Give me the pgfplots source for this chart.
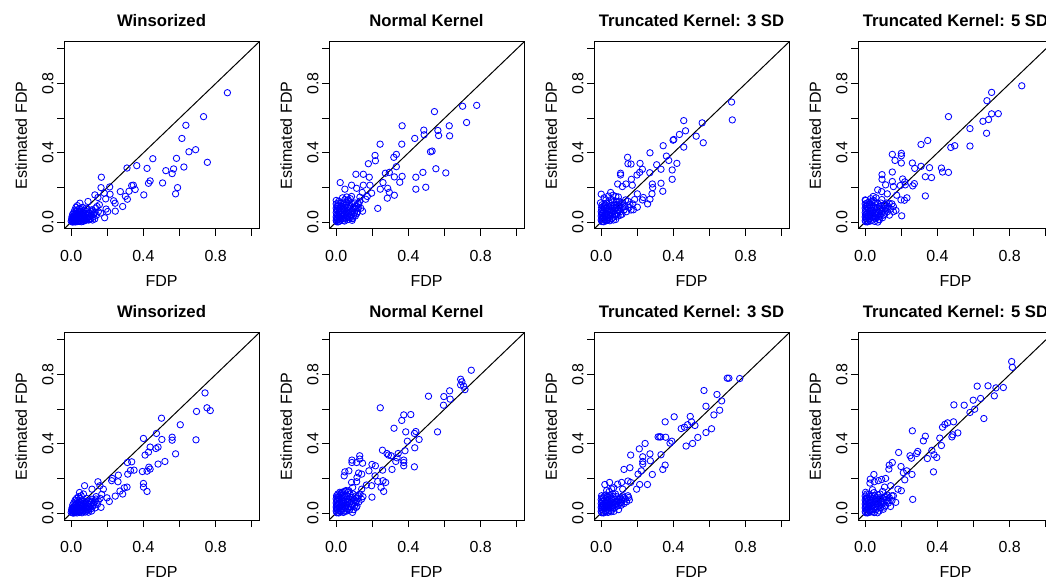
\documentclass[border=0pt]{standalone}
\usepackage{fontspec}
\setmainfont{Liberation Sans}
\usepackage{pgfplots}
\pgfplotsset{compat=1.18}

\pgfplotsset{
  panel/.style={
    scale only axis, width=195bp, height=187bp,
    xmin=-0.04, xmax=1.04, ymin=-0.04, ymax=1.04,
    axis line style={line width=1bp},
    xtick={0,0.2,0.4,0.6,0.8,1}, ytick={0,0.2,0.4,0.6,0.8,1},
    xticklabels={0.0,,0.4,,0.8,}, yticklabels={0.0,,0.4,,0.8,},
    tick align=outside, xtick pos=left, ytick pos=left,
    major tick length=7bp, tick style={black, line width=1bp},
    /pgf/number format/assume math mode=true,
    ticklabel style={font=\fontsize{16bp}{19bp}\selectfont},
    xticklabel style={yshift=-11bp},
    yticklabel style={rotate=90, anchor=south},
    label style={font=\fontsize{16bp}{19bp}\selectfont},
    xlabel={FDP}, ylabel={Estimated FDP},
    xlabel style={at={(axis description cs:0.5,-0.310)}, anchor=base},
    ylabel style={at={(axis description cs:-0.19,0.5)}, anchor=base},
    title style={at={(axis description cs:0.5,1.053)}, anchor=base,
      font=\bfseries\fontsize{16.7bp}{20bp}\selectfont},
  },
  pts/.style={only marks, mark=o, blue, mark size=3.2bp, mark options={line width=0.85bp}},
  diag/.style={black, line width=1bp, no markers},
}

\begin{document}
\begin{tikzpicture}
\useasboundingbox (0,0) rectangle (1046bp,580bp);
\clip (0,0) rectangle (1046bp,580bp);

% ---- top row ----
\begin{axis}[panel, at={(64bp,351bp)}, anchor=south west, title={Winsorized}]
\addplot[pts] table {
0.865 0.747
0.733 0.609
0.635 0.559
0.613 0.483
0.689 0.418
0.652 0.406
0.754 0.345
0.583 0.368
0.624 0.318
0.567 0.307
0.559 0.280
0.524 0.297
0.506 0.226
0.589 0.199
0.578 0.163
0.452 0.366
0.420 0.310
0.437 0.238
0.428 0.224
0.402 0.157
0.363 0.326
0.309 0.312
0.344 0.213
0.335 0.211
0.354 0.188
0.320 0.178
0.311 0.132
0.300 0.149
0.272 0.176
0.285 0.090
0.244 0.063
0.243 0.109
0.235 0.123
0.215 0.161
0.213 0.203
0.167 0.259
0.165 0.199
0.183 0.167
0.191 0.134
0.185 0.025
0.193 0.075
0.148 0.142
0.131 0.157
0.093 0.119
0.048 0.109
0.156 0.100
0.143 0.090
0.163 0.052
0.202 0.061
0.115 0.071
0.081 0.080
0.063 0.052
0.000 0.005
0.005 0.010
0.010 0.004
0.012 0.020
0.015 0.008
0.018 0.030
0.020 0.012
0.022 0.040
0.025 0.018
0.028 0.006
0.030 0.025
0.032 0.050
0.035 0.015
0.038 0.032
0.040 0.008
0.042 0.060
0.045 0.022
0.048 0.040
0.050 0.012
0.052 0.030
0.055 0.070
0.058 0.018
0.060 0.045
0.062 0.008
0.065 0.028
0.068 0.055
0.070 0.015
0.072 0.035
0.075 0.020
0.078 0.048
0.080 0.010
0.083 0.030
0.086 0.060
0.090 0.022
0.093 0.040
0.096 0.012
0.100 0.030
0.104 0.050
0.108 0.020
0.112 0.038
0.116 0.065
0.120 0.028
0.125 0.045
0.130 0.018
0.004 0.030
0.008 0.045
0.014 0.055
0.020 0.070
0.026 0.085
0.034 0.095
0.010 0.025
0.003 0.018
0.007 0.000
0.016 0.002
0.024 0.001
0.036 0.003
0.046 0.004
0.056 0.002
0.066 0.004
0.140 0.040
0.150 0.060
0.135 0.080
0.028 0.065
0.045 0.078
0.062 0.085
0.006 0.015
0.011 0.033
0.017 0.018
0.021 0.028
0.027 0.012
0.033 0.038
0.039 0.022
0.044 0.046
0.051 0.020
0.057 0.038
0.063 0.024
0.069 0.040
0.074 0.010
0.081 0.042
0.087 0.016
0.094 0.052
0.102 0.015
0.109 0.060
0.118 0.012
0.128 0.055
0.036 0.070
0.053 0.058
0.019 0.050
0.071 0.068
0.090 0.075
};
\addplot[diag] coordinates {(-0.04,-0.04) (1.04,1.04)};
\end{axis}

\begin{axis}[panel, at={(329bp,351bp)}, anchor=south west, title={Normal Kernel}]
\addplot[pts] table {
0.778 0.674
0.700 0.669
0.722 0.575
0.544 0.638
0.626 0.556
0.563 0.529
0.485 0.531
0.567 0.500
0.628 0.498
0.487 0.504
0.435 0.483
0.365 0.556
0.363 0.450
0.243 0.450
0.531 0.410
0.522 0.406
0.333 0.391
0.319 0.374
0.215 0.385
0.217 0.354
0.178 0.337
0.333 0.320
0.552 0.308
0.607 0.284
0.480 0.287
0.441 0.259
0.496 0.201
0.441 0.190
0.365 0.264
0.322 0.261
0.352 0.230
0.272 0.282
0.294 0.287
0.259 0.228
0.244 0.190
0.285 0.195
0.294 0.172
0.283 0.138
0.322 0.155
0.230 0.079
0.146 0.063
0.109 0.276
0.150 0.276
0.183 0.259
0.022 0.228
0.085 0.213
0.048 0.190
0.113 0.195
0.150 0.213
0.187 0.213
0.144 0.171
0.196 0.167
0.172 0.148
0.131 0.144
0.163 0.132
0.122 0.109
0.085 0.148
0.067 0.128
0.089 0.021
0.000 0.010
0.000 0.030
0.000 0.055
0.000 0.080
0.000 0.105
0.000 0.125
0.004 0.045
0.006 0.015
0.008 0.070
0.010 0.095
0.012 0.030
0.015 0.055
0.018 0.005
0.020 0.080
0.022 0.040
0.025 0.110
0.028 0.020
0.030 0.065
0.033 0.090
0.036 0.035
0.040 0.010
0.042 0.075
0.045 0.050
0.048 0.130
0.050 0.025
0.053 0.100
0.056 0.060
0.060 0.040
0.062 0.085
0.065 0.015
0.068 0.120
0.070 0.050
0.073 0.030
0.076 0.070
0.080 0.095
0.083 0.045
0.086 0.060
0.090 0.020
0.093 0.080
0.096 0.035
0.100 0.055
0.104 0.110
0.108 0.075
0.112 0.090
0.118 0.060
0.124 0.100
0.130 0.120
0.136 0.080
0.014 0.120
0.035 0.140
0.058 0.145
0.078 0.135
0.002 0.002
0.010 0.001
0.024 0.012
0.046 0.006
0.064 0.028
0.088 0.010
0.002 0.020
0.003 0.068
0.005 0.092
0.009 0.040
0.013 0.110
0.016 0.075
0.019 0.025
0.023 0.060
0.027 0.095
0.031 0.045
0.035 0.075
0.038 0.115
0.044 0.020
0.049 0.085
0.055 0.035
0.059 0.110
0.066 0.065
0.071 0.090
0.078 0.025
0.084 0.110
0.091 0.065
0.098 0.085
0.106 0.035
0.114 0.050
0.122 0.080
};
\addplot[diag] coordinates {(-0.04,-0.04) (1.04,1.04)};
\end{axis}

\begin{axis}[panel, at={(594bp,351bp)}, anchor=south west, title={Truncated Kernel: 3 SD}]
\addplot[pts] table {
0.722 0.693
0.726 0.590
0.559 0.573
0.457 0.586
0.467 0.527
0.433 0.506
0.402 0.477
0.398 0.473
0.526 0.496
0.565 0.458
0.457 0.433
0.343 0.441
0.270 0.400
0.361 0.381
0.374 0.356
0.419 0.339
0.307 0.331
0.331 0.305
0.393 0.301
0.393 0.247
0.146 0.374
0.148 0.337
0.165 0.335
0.215 0.339
0.107 0.282
0.107 0.272
0.228 0.305
0.213 0.287
0.198 0.272
0.269 0.285
0.167 0.247
0.091 0.220
0.117 0.205
0.137 0.220
0.172 0.213
0.283 0.220
0.285 0.199
0.331 0.224
0.341 0.178
0.281 0.163
0.270 0.132
0.257 0.105
0.228 0.128
0.233 0.142
0.200 0.163
0.200 0.086
0.178 0.071
0.000 0.161
0.052 0.171
0.026 0.128
-0.004 0.111
0.104 0.105
0.135 0.128
0.159 0.100
0.081 0.148
0.000 0.012
0.000 0.035
0.000 0.060
0.002 0.085
0.004 0.022
0.006 0.048
0.008 0.004
0.010 0.070
0.012 0.030
0.015 0.095
0.018 0.015
0.020 0.055
0.023 0.040
0.026 0.078
0.028 0.008
0.030 0.110
0.033 0.025
0.036 0.062
0.040 0.045
0.043 0.090
0.046 0.018
0.050 0.070
0.053 0.035
0.056 0.130
0.060 0.055
0.063 0.080
0.066 0.028
0.070 0.100
0.073 0.045
0.076 0.065
0.080 0.015
0.083 0.120
0.086 0.085
0.090 0.050
0.093 0.035
0.097 0.070
0.100 0.095
0.105 0.060
0.110 0.080
0.115 0.045
0.120 0.110
0.126 0.070
0.132 0.090
0.140 0.060
0.148 0.120
0.155 0.085
0.016 0.140
0.040 0.150
0.065 0.155
0.095 0.145
0.003 0.003
0.014 0.002
0.030 0.010
0.048 0.008
0.068 0.012
0.165 0.070
0.175 0.105
0.185 0.130
0.002 0.048
0.003 0.072
0.005 0.100
0.009 0.020
0.013 0.058
0.016 0.080
0.019 0.038
0.022 0.100
0.027 0.050
0.031 0.085
0.035 0.012
0.039 0.070
0.044 0.110
0.048 0.040
0.052 0.095
0.058 0.020
0.062 0.115
0.067 0.060
0.072 0.080
0.078 0.040
0.085 0.100
0.091 0.070
0.099 0.120
0.107 0.040
0.118 0.085
};
\addplot[diag] coordinates {(-0.04,-0.04) (1.04,1.04)};
\end{axis}

\begin{axis}[panel, at={(858bp,351bp)}, anchor=south west, title={Truncated Kernel: 5 SD}]
\addplot[pts] table {
0.867 0.787
0.700 0.749
0.674 0.701
0.737 0.626
0.700 0.625
0.683 0.592
0.652 0.582
0.461 0.609
0.580 0.540
0.672 0.513
0.346 0.471
0.309 0.448
0.580 0.439
0.496 0.441
0.474 0.431
0.356 0.314
0.422 0.312
0.428 0.289
0.461 0.287
0.367 0.257
0.333 0.262
0.333 0.151
0.309 0.322
0.274 0.310
0.261 0.341
0.200 0.397
0.200 0.383
0.150 0.391
0.165 0.356
0.200 0.341
0.150 0.289
0.093 0.274
0.093 0.247
0.150 0.234
0.207 0.249
0.219 0.232
0.222 0.215
0.272 0.222
0.263 0.209
0.194 0.211
0.113 0.215
0.156 0.205
0.231 0.140
0.198 0.128
0.217 0.126
0.174 0.155
0.122 0.163
0.069 0.186
0.091 0.176
0.000 0.128
0.044 0.148
0.202 0.036
0.170 0.067
0.156 0.090
0.107 0.100
0.133 0.109
0.078 0.013
0.000 0.008
0.000 0.030
0.000 0.055
0.000 0.080
0.000 0.105
0.002 0.125
0.005 0.018
0.007 0.045
0.010 0.068
0.012 0.092
0.015 0.005
0.018 0.035
0.020 0.115
0.023 0.058
0.026 0.020
0.029 0.080
0.032 0.045
0.035 0.100
0.038 0.010
0.041 0.065
0.044 0.030
0.047 0.125
0.050 0.050
0.054 0.085
0.058 0.022
0.062 0.070
0.065 0.040
0.068 0.110
0.072 0.058
0.075 0.015
0.078 0.090
0.082 0.035
0.085 0.075
0.089 0.050
0.092 0.130
0.096 0.025
0.100 0.065
0.104 0.095
0.108 0.045
0.112 0.080
0.117 0.110
0.122 0.060
0.128 0.090
0.134 0.040
0.140 0.075
0.148 0.105
0.156 0.060
0.003 0.002
0.012 0.001
0.028 0.006
0.052 0.004
0.070 0.000
0.060 0.140
0.030 0.135
0.002 0.042
0.003 0.068
0.004 0.092
0.008 0.030
0.011 0.110
0.014 0.055
0.017 0.080
0.021 0.020
0.025 0.100
0.028 0.040
0.033 0.070
0.037 0.120
0.040 0.050
0.046 0.090
0.052 0.030
0.056 0.110
0.061 0.050
0.067 0.085
0.073 0.030
0.079 0.070
0.086 0.110
0.093 0.060
0.101 0.040
0.110 0.100
0.120 0.080
};
\addplot[diag] coordinates {(-0.04,-0.04) (1.04,1.04)};
\end{axis}

% ---- bottom row ----
\begin{axis}[panel, at={(64bp,60bp)}, anchor=south west, title={Winsorized}]
\addplot[pts] table {
0.741 0.694
0.752 0.608
0.770 0.592
0.694 0.587
0.691 0.423
0.500 0.548
0.604 0.510
0.472 0.460
0.559 0.438
0.559 0.421
0.502 0.425
0.400 0.431
0.437 0.381
0.469 0.373
0.481 0.381
0.409 0.335
0.428 0.352
0.578 0.342
0.519 0.298
0.481 0.283
0.430 0.265
0.437 0.254
0.420 0.242
0.394 0.240
0.335 0.296
0.311 0.292
0.328 0.246
0.348 0.248
0.313 0.225
0.400 0.171
0.400 0.150
0.420 0.125
0.261 0.219
0.259 0.181
0.228 0.200
0.224 0.187
0.309 0.150
0.294 0.146
0.270 0.127
0.285 0.110
0.244 0.098
0.211 0.067
0.198 0.088
0.178 0.138
0.148 0.181
0.159 0.158
0.169 0.108
0.115 0.138
0.074 0.158
0.046 0.119
0.165 0.033
0.111 0.062
0.137 0.081
0.000 0.004
0.004 0.012
0.008 0.002
0.010 0.022
0.013 0.008
0.016 0.035
0.019 0.015
0.022 0.045
0.025 0.005
0.028 0.028
0.031 0.055
0.034 0.012
0.037 0.038
0.040 0.020
0.043 0.065
0.046 0.030
0.049 0.008
0.052 0.048
0.055 0.022
0.058 0.075
0.061 0.035
0.064 0.012
0.067 0.055
0.070 0.025
0.073 0.040
0.076 0.015
0.080 0.062
0.084 0.030
0.088 0.045
0.092 0.018
0.096 0.070
0.100 0.035
0.105 0.052
0.110 0.025
0.115 0.080
0.120 0.040
0.126 0.060
0.132 0.030
0.138 0.095
0.145 0.050
0.005 0.030
0.009 0.048
0.015 0.060
0.022 0.075
0.030 0.085
0.040 0.095
0.055 0.100
0.068 0.110
0.003 0.020
0.012 0.000
0.020 0.002
0.032 0.001
0.045 0.004
0.060 0.002
0.078 0.006
0.095 0.005
0.150 0.070
0.160 0.085
0.006 0.018
0.011 0.035
0.017 0.012
0.021 0.030
0.026 0.048
0.033 0.020
0.038 0.058
0.042 0.010
0.048 0.040
0.054 0.060
0.059 0.015
0.065 0.040
0.071 0.070
0.077 0.030
0.083 0.012
0.090 0.055
0.098 0.022
0.107 0.070
0.113 0.012
0.123 0.050
0.134 0.070
0.026 0.065
0.050 0.085
0.086 0.085
0.018 0.005
};
\addplot[diag] coordinates {(-0.04,-0.04) (1.04,1.04)};
\end{axis}

\begin{axis}[panel, at={(329bp,60bp)}, anchor=south west, title={Normal Kernel}]
\addplot[pts] table {
0.748 0.825
0.689 0.773
0.696 0.758
0.689 0.740
0.706 0.733
0.713 0.713
0.628 0.706
0.511 0.675
0.596 0.673
0.631 0.658
0.594 0.623
0.244 0.608
0.374 0.567
0.413 0.569
0.363 0.535
0.320 0.490
0.385 0.469
0.441 0.471
0.433 0.460
0.561 0.469
0.459 0.425
0.394 0.415
0.435 0.377
0.381 0.360
0.433 0.267
0.374 0.306
0.374 0.292
0.374 0.273
0.256 0.363
0.281 0.344
0.289 0.335
0.304 0.331
0.343 0.344
0.337 0.319
0.330 0.298
0.309 0.252
0.257 0.248
0.259 0.187
0.248 0.148
0.263 0.125
0.274 0.177
0.198 0.281
0.217 0.273
0.181 0.244
0.215 0.215
0.230 0.183
0.196 0.158
0.198 0.092
0.130 0.331
0.130 0.312
0.087 0.306
0.087 0.292
0.113 0.292
0.146 0.288
0.048 0.238
0.070 0.244
0.044 0.215
0.124 0.231
0.115 0.206
0.141 0.225
0.085 0.177
0.113 0.181
0.091 0.148
0.141 0.138
0.167 0.162
0.111 0.033
0.070 0.129
0.030 0.119
0.000 0.012
0.000 0.035
0.000 0.058
0.000 0.082
0.002 0.100
0.004 0.022
0.006 0.048
0.008 0.070
0.010 0.005
0.012 0.090
0.015 0.030
0.018 0.060
0.021 0.015
0.024 0.110
0.027 0.042
0.030 0.075
0.033 0.025
0.036 0.120
0.039 0.055
0.042 0.088
0.045 0.035
0.048 0.010
0.051 0.070
0.054 0.130
0.057 0.045
0.060 0.100
0.064 0.025
0.068 0.080
0.072 0.055
0.076 0.110
0.080 0.035
0.084 0.070
0.088 0.090
0.092 0.050
0.096 0.020
0.100 0.075
0.105 0.060
0.110 0.100
0.115 0.040
0.120 0.085
0.126 0.065
0.132 0.110
0.140 0.080
0.148 0.095
0.003 0.002
0.014 0.001
0.026 0.008
0.040 0.004
0.058 0.012
0.074 0.018
0.090 0.004
0.045 0.125
0.020 0.120
0.002 0.025
0.003 0.045
0.004 0.070
0.005 0.092
0.009 0.110
0.013 0.050
0.016 0.080
0.020 0.035
0.023 0.090
0.028 0.060
0.032 0.100
0.037 0.040
0.041 0.070
0.046 0.100
0.052 0.025
0.056 0.080
0.062 0.060
0.066 0.120
0.071 0.035
0.078 0.090
0.085 0.050
0.093 0.110
0.101 0.040
0.112 0.070
0.124 0.100
};
\addplot[diag] coordinates {(-0.04,-0.04) (1.04,1.04)};
\end{axis}

\begin{axis}[panel, at={(594bp,60bp)}, anchor=south west, title={Truncated Kernel: 3 SD}]
\addplot[pts] table {
0.698 0.779
0.707 0.779
0.767 0.777
0.569 0.708
0.641 0.685
0.667 0.648
0.580 0.617
0.656 0.594
0.624 0.567
0.404 0.556
0.493 0.558
0.354 0.527
0.500 0.527
0.519 0.506
0.478 0.510
0.461 0.496
0.443 0.488
0.611 0.487
0.580 0.465
0.535 0.437
0.506 0.402
0.470 0.387
0.315 0.440
0.324 0.440
0.330 0.440
0.357 0.438
0.391 0.415
0.381 0.404
0.243 0.402
0.211 0.371
0.163 0.335
0.270 0.342
0.230 0.325
0.230 0.298
0.230 0.283
0.272 0.302
0.331 0.337
0.354 0.277
0.341 0.252
0.222 0.244
0.204 0.225
0.126 0.252
0.159 0.262
0.283 0.223
0.256 0.165
0.213 0.165
0.196 0.138
0.148 0.185
0.163 0.177
0.113 0.177
0.020 0.165
0.046 0.177
0.069 0.146
0.091 0.167
0.119 0.138
0.152 0.090
0.070 0.010
0.107 0.062
0.000 0.010
0.000 0.032
0.000 0.055
0.000 0.078
0.002 0.100
0.004 0.020
0.006 0.045
0.009 0.066
0.011 0.004
0.014 0.088
0.017 0.028
0.020 0.055
0.023 0.012
0.026 0.105
0.029 0.040
0.032 0.072
0.035 0.022
0.038 0.092
0.041 0.050
0.044 0.125
0.047 0.032
0.050 0.068
0.053 0.015
0.056 0.085
0.060 0.045
0.064 0.110
0.068 0.060
0.072 0.028
0.076 0.080
0.080 0.050
0.084 0.095
0.088 0.040
0.092 0.070
0.096 0.020
0.100 0.060
0.105 0.088
0.110 0.045
0.115 0.075
0.120 0.100
0.126 0.055
0.132 0.082
0.140 0.065
0.148 0.100
0.156 0.075
0.003 0.002
0.013 0.001
0.025 0.006
0.038 0.004
0.055 0.008
0.030 0.130
0.058 0.140
0.002 0.040
0.003 0.065
0.004 0.088
0.008 0.030
0.012 0.050
0.015 0.072
0.019 0.100
0.022 0.035
0.027 0.060
0.031 0.090
0.034 0.045
0.039 0.070
0.043 0.015
0.048 0.100
0.052 0.055
0.058 0.075
0.062 0.030
0.067 0.095
0.073 0.050
0.079 0.110
0.086 0.065
0.094 0.045
0.102 0.080
0.112 0.060
0.124 0.090
};
\addplot[diag] coordinates {(-0.04,-0.04) (1.04,1.04)};
\end{axis}

\begin{axis}[panel, at={(858bp,60bp)}, anchor=south west, title={Truncated Kernel: 5 SD}]
\addplot[pts] table {
0.811 0.875
0.815 0.842
0.680 0.735
0.620 0.733
0.724 0.723
0.765 0.725
0.715 0.677
0.639 0.662
0.598 0.652
0.491 0.625
0.548 0.623
0.606 0.600
0.580 0.581
0.657 0.546
0.489 0.527
0.456 0.521
0.441 0.512
0.428 0.496
0.513 0.463
0.485 0.452
0.480 0.440
0.413 0.433
0.422 0.390
0.261 0.475
0.333 0.444
0.322 0.417
0.369 0.362
0.381 0.337
0.396 0.321
0.344 0.315
0.378 0.238
0.185 0.350
0.248 0.331
0.256 0.317
0.291 0.356
0.285 0.344
0.150 0.292
0.133 0.277
0.131 0.254
0.198 0.269
0.230 0.244
0.211 0.233
0.259 0.223
0.219 0.192
0.048 0.223
0.028 0.196
0.026 0.173
0.050 0.181
0.072 0.187
0.091 0.194
0.113 0.200
0.107 0.150
0.141 0.158
0.181 0.138
0.200 0.129
0.169 0.062
0.263 0.079
0.148 0.100
0.000 0.008
0.000 0.030
0.000 0.052
0.000 0.075
0.000 0.098
0.002 0.120
0.005 0.018
0.007 0.042
0.010 0.065
0.012 0.088
0.015 0.004
0.018 0.030
0.021 0.108
0.024 0.055
0.027 0.015
0.030 0.078
0.033 0.040
0.036 0.098
0.039 0.008
0.042 0.062
0.045 0.025
0.048 0.118
0.051 0.048
0.055 0.082
0.059 0.020
0.063 0.068
0.066 0.035
0.070 0.105
0.074 0.055
0.077 0.012
0.080 0.088
0.084 0.030
0.088 0.072
0.092 0.048
0.096 0.125
0.100 0.022
0.104 0.062
0.108 0.092
0.112 0.042
0.117 0.078
0.122 0.105
0.128 0.058
0.134 0.088
0.140 0.038
0.148 0.072
0.156 0.100
0.003 0.002
0.012 0.001
0.028 0.006
0.050 0.003
0.068 0.002
0.040 0.135
0.002 0.040
0.003 0.064
0.004 0.086
0.008 0.110
0.011 0.025
0.014 0.050
0.017 0.075
0.022 0.040
0.026 0.095
0.031 0.060
0.035 0.020
0.040 0.085
0.044 0.045
0.049 0.100
0.054 0.065
0.060 0.040
0.064 0.090
0.069 0.055
0.076 0.075
0.082 0.110
0.090 0.060
0.098 0.085
0.106 0.035
0.116 0.095
0.126 0.070
};
\addplot[diag] coordinates {(-0.04,-0.04) (1.04,1.04)};
\end{axis}
\end{tikzpicture}
\end{document}
